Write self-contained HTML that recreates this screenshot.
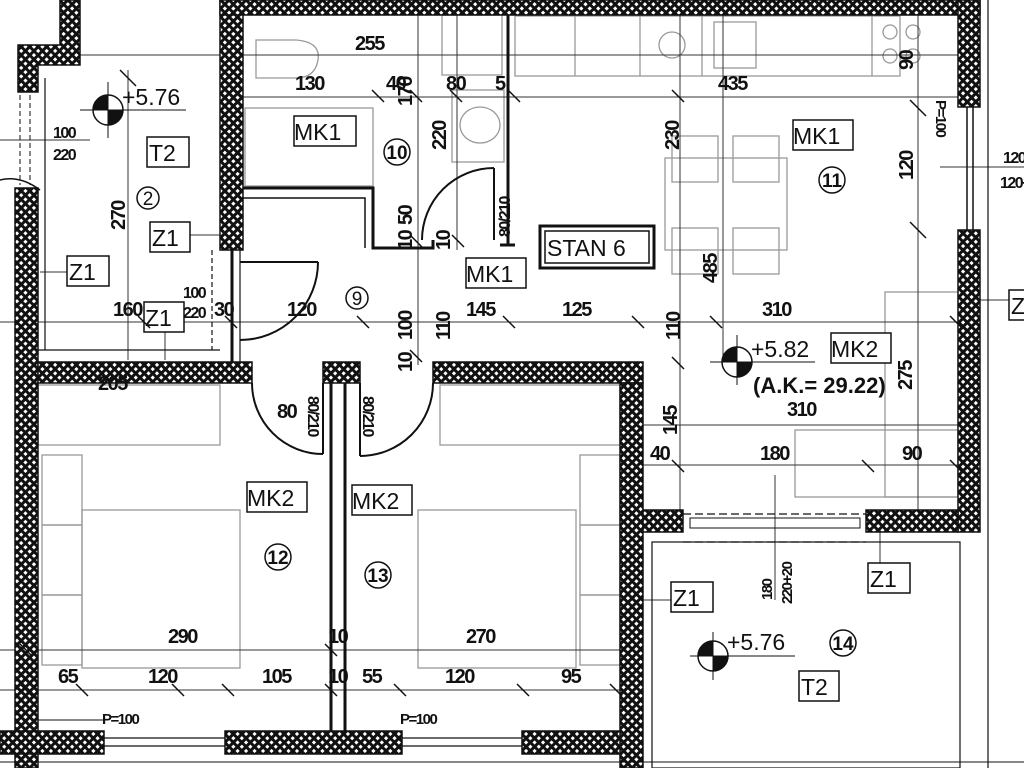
<!DOCTYPE html>
<html><head><meta charset="utf-8"><style>
html,body{margin:0;padding:0;background:#fff;}
svg{display:block;}
text{font-family:"Liberation Sans",sans-serif;fill:#111;}
.d{font-size:20px;font-weight:bold;letter-spacing:-1.5px;}
.l{font-size:23px;}
</style></head><body>
<svg width="1024" height="768" viewBox="0 0 1024 768" xmlns="http://www.w3.org/2000/svg">
<defs>
<pattern id="h" width="6" height="6" patternUnits="userSpaceOnUse" patternTransform="rotate(45)">
<rect width="6" height="6" fill="#111"/><rect x="1.5" y="1.5" width="3" height="3" fill="#fff"/>
</pattern>
</defs>
<g fill="none" stroke="#999" stroke-width="1.3">
<rect x="515" y="16" width="385" height="60"/>
<line x1="575" y1="16" x2="575" y2="76"/><line x1="640" y1="16" x2="640" y2="76"/><line x1="702" y1="16" x2="702" y2="76"/><line x1="872" y1="16" x2="872" y2="76"/>
<rect x="714" y="22" width="42" height="46"/>
<circle cx="890" cy="32" r="7"/><circle cx="913" cy="32" r="7"/><circle cx="890" cy="56" r="7"/><circle cx="913" cy="56" r="7"/>
<circle cx="672" cy="45" r="13"/>
<rect x="665" y="158" width="122" height="92"/>
<rect x="672" y="136" width="46" height="46"/><rect x="733" y="136" width="46" height="46"/>
<rect x="672" y="228" width="46" height="46"/><rect x="733" y="228" width="46" height="46"/>
<rect x="245" y="108" width="128" height="78"/>
<path d="M256 40 h40 q25 2 22 20 q-3 18 -22 18 h-40z"/>
<rect x="452" y="90" width="52" height="72"/>
<ellipse cx="480" cy="125" rx="20" ry="18"/>
<rect x="442" y="15" width="60" height="60"/>
<rect x="885" y="292" width="73" height="205"/><rect x="795" y="430" width="163" height="67"/>
<rect x="38" y="385" width="182" height="60"/>
<rect x="42" y="455" width="40" height="70"/><rect x="42" y="525" width="40" height="70"/><rect x="42" y="595" width="40" height="70"/>
<rect x="82" y="510" width="158" height="158"/>
<rect x="440" y="385" width="180" height="60"/>
<rect x="418" y="510" width="158" height="158"/>
<rect x="580" y="455" width="40" height="70"/><rect x="580" y="525" width="40" height="70"/><rect x="580" y="595" width="40" height="70"/>
</g>
<g stroke="#333" stroke-width="1" fill="none">
<line x1="40" y1="55" x2="960" y2="55"/>
<line x1="243" y1="97" x2="960" y2="97"/>
<line x1="0" y1="322" x2="960" y2="322"/>
<line x1="640" y1="425" x2="960" y2="425"/>
<line x1="640" y1="465" x2="960" y2="465"/>
<line x1="0" y1="650" x2="640" y2="650"/>
<line x1="0" y1="690" x2="640" y2="690"/>
<line x1="128" y1="70" x2="128" y2="360"/>
<line x1="418" y1="15" x2="418" y2="365"/>
<line x1="457" y1="15" x2="457" y2="250"/>
<line x1="680" y1="15" x2="680" y2="510"/>
<line x1="723" y1="15" x2="723" y2="360"/>
<line x1="918" y1="15" x2="918" y2="510"/>
<line x1="775" y1="475" x2="775" y2="600"/>
<line x1="0" y1="140" x2="90" y2="140"/>
<line x1="640" y1="600" x2="700" y2="600"/>
<line x1="880" y1="532" x2="880" y2="568"/>
<line x1="190" y1="235" x2="220" y2="235"/>
<line x1="40" y1="272" x2="68" y2="272"/>
<line x1="165" y1="330" x2="165" y2="360"/>
<line x1="960" y1="300" x2="1010" y2="300"/>
<line x1="940" y1="167" x2="1024" y2="167"/>
</g>
<g fill="url(#h)" stroke="#111" stroke-width="1.5">
<path d="M60 0h20v65h-42v27h-20v-47h42z"/>
<rect x="15" y="188" width="23" height="580"/>
<rect x="220" y="0" width="23" height="250"/>
<rect x="220" y="0" width="760" height="15"/>
<rect x="958" y="0" width="22" height="107"/>
<rect x="958" y="230" width="22" height="302"/>
<rect x="38" y="362" width="214" height="21"/>
<rect x="323" y="362" width="37" height="21"/>
<rect x="433" y="362" width="210" height="21"/>
<rect x="620" y="383" width="23" height="385"/>
<rect x="643" y="510" width="40" height="22"/>
<rect x="866" y="510" width="92" height="22"/>
<rect x="0" y="731" width="104" height="23"/>
<rect x="225" y="731" width="177" height="23"/>
<rect x="522" y="731" width="98" height="23"/>
</g>
<g stroke="#111" fill="none">
<path d="M243 188h130v60h60v-8" stroke-width="3"/>
<path d="M243 198h122v50" stroke-width="1.5"/>
<line x1="508" y1="15" x2="508" y2="245" stroke-width="3"/>
<line x1="500" y1="245" x2="515" y2="245" stroke-width="3"/>
<line x1="38" y1="350" x2="220" y2="350" stroke-width="1.2"/>
<line x1="45" y1="78" x2="45" y2="350" stroke-width="1.2"/>
<line x1="212" y1="250" x2="212" y2="350" stroke-width="1.2" stroke-dasharray="5,3"/>
<line x1="232" y1="250" x2="232" y2="362" stroke-width="3"/>
<line x1="240" y1="250" x2="240" y2="362" stroke-width="1.2"/>
<line x1="331" y1="383" x2="331" y2="731" stroke-width="3"/>
<line x1="345" y1="383" x2="345" y2="731" stroke-width="3"/>
<line x1="38" y1="720" x2="104" y2="720" stroke-width="1"/>
<line x1="104" y1="738" x2="225" y2="738" stroke-width="1.2"/><line x1="104" y1="746" x2="225" y2="746" stroke-width="1.2"/>
<line x1="402" y1="738" x2="522" y2="738" stroke-width="1.2"/><line x1="402" y1="746" x2="522" y2="746" stroke-width="1.2"/>
<line x1="0" y1="762" x2="1024" y2="762" stroke-width="1"/>
<line x1="967" y1="107" x2="967" y2="230" stroke-width="1.5"/><line x1="973" y1="107" x2="973" y2="230" stroke-width="1.5"/>
<line x1="988" y1="0" x2="988" y2="768" stroke-width="1.2"/>
<rect x="652" y="542" width="308" height="226" stroke-width="1.2"/>
<line x1="683" y1="514" x2="866" y2="514" stroke-width="1.2" stroke-dasharray="8,4"/>
<line x1="683" y1="542" x2="866" y2="542" stroke-width="1.2" stroke-dasharray="8,4"/>
<rect x="690" y="518" width="170" height="10" stroke-width="1"/>
<path d="M494 168 A72 72 0 0 0 422 240" stroke-width="2"/><line x1="494" y1="168" x2="494" y2="240" stroke-width="2"/>
<path d="M318 262 A78 78 0 0 1 240 340" stroke-width="2"/><line x1="240" y1="262" x2="318" y2="262" stroke-width="2"/>
<path d="M252 383 A71 71 0 0 0 323 454" stroke-width="2"/><line x1="323" y1="383" x2="323" y2="454" stroke-width="2"/>
<path d="M433 383 A73 73 0 0 1 360 456" stroke-width="2"/><line x1="360" y1="383" x2="360" y2="456" stroke-width="2"/>
<path d="M0 180 q20 -5 40 10" stroke-width="1.5"/>
<path d="M20 95 v90 M30 95 v90" stroke-width="1" stroke-dasharray="5,3"/>
</g>
<g>
<circle cx="108" cy="110" r="15" fill="#fff" stroke="#111" stroke-width="1.5"/>
<path d="M108 110 V95 A15 15 0 0 0 93 110Z M108 110 H123 A15 15 0 0 1 108 125Z" fill="#111"/>
<line x1="80" y1="110" x2="186" y2="110" stroke="#111"/><line x1="108" y1="82" x2="108" y2="138" stroke="#111"/>
<circle cx="737" cy="362" r="15" fill="#fff" stroke="#111" stroke-width="1.5"/>
<path d="M737 362 V347 A15 15 0 0 0 722 362Z M737 362 H752 A15 15 0 0 1 737 377Z" fill="#111"/>
<line x1="710" y1="362" x2="815" y2="362" stroke="#111"/><line x1="737" y1="335" x2="737" y2="385" stroke="#111"/>
<circle cx="713" cy="656" r="15" fill="#fff" stroke="#111" stroke-width="1.5"/>
<path d="M713 656 V641 A15 15 0 0 0 698 656Z M713 656 H728 A15 15 0 0 1 713 671Z" fill="#111"/>
<line x1="690" y1="656" x2="795" y2="656" stroke="#111"/><line x1="713" y1="632" x2="713" y2="680" stroke="#111"/>
</g>
<g fill="#fff" stroke="#111" stroke-width="1.5">
<rect x="147" y="137" width="42" height="30"/><rect x="150" y="222" width="40" height="30"/><rect x="67" y="256" width="42" height="30"/><rect x="144" y="302" width="40" height="30"/>
<rect x="294" y="116" width="62" height="30"/><rect x="466" y="258" width="60" height="30"/><rect x="793" y="120" width="60" height="30"/>
<rect x="831" y="333" width="60" height="30"/><rect x="247" y="482" width="60" height="30"/><rect x="352" y="485" width="60" height="30"/>
<rect x="671" y="582" width="42" height="30"/><rect x="868" y="563" width="42" height="30"/><rect x="799" y="671" width="40" height="30"/>
<rect x="1009" y="290" width="20" height="30"/>
</g>
<rect x="540" y="226" width="114" height="42" fill="#fff" stroke="#111" stroke-width="3"/>
<rect x="545" y="231" width="104" height="32" fill="none" stroke="#111" stroke-width="1.5"/>
<g class="l">
<text x="149" y="161">T2</text><text x="152" y="246">Z1</text><text x="69" y="280">Z1</text><text x="145" y="326">Z1</text>
<text x="294" y="140">MK1</text><text x="466" y="282">MK1</text><text x="793" y="144">MK1</text>
<text x="831" y="357">MK2</text><text x="247" y="506">MK2</text><text x="352" y="509">MK2</text>
<text x="673" y="606">Z1</text><text x="870" y="587">Z1</text><text x="801" y="695">T2</text><text x="1011" y="314">Z</text>
<text x="547" y="256">STAN 6</text>
<text x="122" y="105">+5.76</text><text x="751" y="357">+5.82</text><text x="727" y="650">+5.76</text>
</g>
<text x="753" y="393" style="font-size:22px;font-weight:bold">(A.K.= 29.22)</text>
<g fill="none" stroke="#111" stroke-width="1.5">
<circle cx="148" cy="198" r="11"/><circle cx="397" cy="152" r="13"/><circle cx="357" cy="298" r="11"/><circle cx="832" cy="180" r="13"/>
<circle cx="278" cy="557" r="13"/><circle cx="378" cy="575" r="13"/><circle cx="843" cy="643" r="13"/>
</g>
<g style="font-size:19px;text-anchor:middle">
<text x="148" y="205">2</text><text x="397" y="159" style="font-weight:bold">10</text><text x="357" y="305">9</text><text x="832" y="187" style="font-weight:bold">11</text>
<text x="278" y="564" style="font-weight:bold">12</text><text x="378" y="582" style="font-weight:bold">13</text><text x="843" y="650" style="font-weight:bold">14</text>
</g>
<g class="d">
<text x="355" y="50">255</text><text x="295" y="90">130</text><text x="386" y="90">40</text><text x="446" y="90">80</text><text x="495" y="90">5</text>
<text x="718" y="90">435</text>
<text x="53" y="138" style="font-size:16px">100</text><text x="53" y="160" style="font-size:16px">220</text>
<text x="183" y="298" style="font-size:16px">100</text><text x="183" y="318" style="font-size:16px">220</text>
<text x="113" y="316">160</text><text x="214" y="316">30</text><text x="287" y="316">120</text><text x="466" y="316">145</text><text x="562" y="316">125</text><text x="762" y="316">310</text>
<text x="98" y="390">205</text><text x="277" y="418">80</text><text x="787" y="416">310</text>
<text x="650" y="460">40</text><text x="760" y="460">180</text><text x="902" y="460">90</text>
<text x="168" y="643">290</text><text x="466" y="643">270</text><text x="328" y="643">10</text>
<text x="58" y="683">65</text><text x="148" y="683">120</text><text x="262" y="683">105</text><text x="362" y="683">55</text><text x="445" y="683">120</text><text x="561" y="683">95</text><text x="328" y="683">10</text>
<text x="102" y="724" style="font-size:15px">P=100</text><text x="400" y="724" style="font-size:15px">P=100</text>
<text x="1003" y="163" style="font-size:16px">120</text><text x="1000" y="188" style="font-size:16px">120+</text>
</g>
<g class="d">
<text transform="translate(125,230) rotate(-90)">270</text>
<text transform="translate(412,106) rotate(-90)">170</text>
<text transform="translate(446,150) rotate(-90)">220</text>
<text transform="translate(412,225) rotate(-90)">50</text>
<text transform="translate(412,340) rotate(-90)">100</text>
<text transform="translate(450,340) rotate(-90)">110</text>
<text transform="translate(412,250) rotate(-90)">10</text>
<text transform="translate(450,250) rotate(-90)">10</text>
<text transform="translate(412,372) rotate(-90)">10</text>
<text transform="translate(510,237) rotate(-90)" style="font-size:16px">80/210</text>
<text transform="translate(679,150) rotate(-90)">230</text>
<text transform="translate(717,283) rotate(-90)">485</text>
<text transform="translate(680,340) rotate(-90)">110</text>
<text transform="translate(913,180) rotate(-90)">120</text>
<text transform="translate(913,70) rotate(-90)">90</text>
<text transform="translate(677,435) rotate(-90)">145</text>
<text transform="translate(912,390) rotate(-90)">275</text>
<text transform="translate(936,100) rotate(90)" style="font-size:15px">P=100</text>
<text transform="translate(308,396) rotate(90)" style="font-size:16px">80/210</text>
<text transform="translate(363,396) rotate(90)" style="font-size:16px">80/210</text>
<text transform="translate(772,600) rotate(-90)" style="font-size:15px">180</text>
<text transform="translate(792,604) rotate(-90)" style="font-size:15px">220+20</text>
</g>
<g stroke="#111" stroke-width="1.5">
<path d="M120 70l16 16M372 90l12 12M410 90l12 12M450 90l12 12M508 90l12 12M672 90l12 12M910 100l16 16M910 222l16 16
M18 316l12 12M138 316l12 12M225 316l12 12M357 316l12 12M503 316l12 12M632 316l12 12M710 316l12 12M950 316l12 12
M672 357l12 12M672 460l12 12M862 460l12 12M950 460l12 12M20 644l12 12M325 644l12 12M20 684l12 12M76 684l12 12M172 684l12 12M222 684l12 12M325 684l12 12M394 684l12 12M517 684l12 12M610 684l12 12M410 350l12 12M410 235l12 12M452 235l12 12"/>
</g>
</svg>
</body></html>
